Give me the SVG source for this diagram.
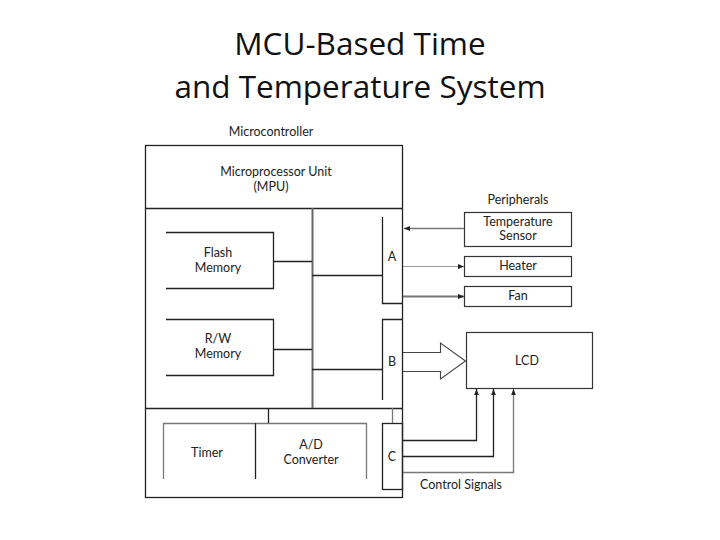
<svg xmlns="http://www.w3.org/2000/svg" width="720" height="540" viewBox="0 0 720 540">
<defs>
<style>
.t{font-family:Lato,"Open Sans",sans-serif;font-size:12.5px;fill:#222;text-anchor:middle}
.title{font-family:"Open Sans","Noto Sans",sans-serif;font-size:31.5px;fill:#111;text-anchor:middle}
.k{stroke:#222;stroke-width:1.3;fill:none}
.g{stroke:#777;stroke-width:1.3;fill:none}
.box{fill:#fff;stroke:#333;stroke-width:1.2}
</style>
<marker id="ah" viewBox="0 0 10 10" refX="10" refY="5" markerWidth="6" markerHeight="6" orient="auto" markerUnits="userSpaceOnUse">
<path d="M0,1 L10,5 L0,9 Z" fill="#222"/>
</marker>
</defs>
<rect width="720" height="540" fill="#fff"/>
<g id="title">
<text class="title" x="360" y="55">MCU-Based Time</text>
<text class="title" x="360" y="98">and Temperature System</text>
</g>
<g id="microcontroller">
<text class="t" x="271" y="136">Microcontroller</text>
<rect x="145.5" y="145.5" width="257" height="352" class="k"/>
<line x1="145" y1="208.5" x2="403" y2="208.5" class="k"/>
<line x1="145" y1="408.5" x2="403" y2="408.5" class="k"/>
</g>
<g id="mpu">
<text class="t" x="276" y="176">Microprocessor Unit</text>
<text class="t" x="271" y="191">(MPU)</text>
</g>
<g id="flash">
<path d="M166,232.5 H273.5 V288.5 H166" class="k"/>
<text class="t" x="218" y="257">Flash</text>
<text class="t" x="218" y="272">Memory</text>
</g>
<g id="rw">
<path d="M166,319.5 H273.5 V375.5 H166" class="k"/>
<text class="t" x="218" y="343">R/W</text>
<text class="t" x="218" y="358">Memory</text>
</g>
<g id="portA">
<path d="M382.5,217 V303.5 H403" class="k"/>
<text class="t" x="392" y="261">A</text>
</g>
<g id="portB">
<path d="M403,319.5 H382.5 V400" class="k"/>
<text class="t" x="392" y="366">B</text>
</g>
<g id="timer">
<path d="M163.5,479 V423.5 H366.5 V479" class="g"/>
<line x1="255.5" y1="423" x2="255.5" y2="479" class="k"/>
<text class="t" x="207" y="457">Timer</text>
</g>
<g id="adc">
<text class="t" x="311" y="449">A/D</text>
<text class="t" x="311" y="464">Converter</text>
</g>
<g id="portC">
<rect x="382.5" y="423.5" width="20" height="66" class="k"/>
<text class="t" x="392" y="461">C</text>
</g>
<g id="peripherals">
<text class="t" x="518" y="204">Peripherals</text>
</g>
<g id="tempSensor">
<rect x="464.5" y="212.5" width="107" height="34" class="box"/>
<text class="t" x="518" y="226">Temperature</text>
<text class="t" x="518" y="240">Sensor</text>
</g>
<g id="heater">
<rect x="464.5" y="256.5" width="107" height="20" class="box"/>
<text class="t" x="518" y="270" fill="#555">Heater</text>
</g>
<g id="fan">
<rect x="464.5" y="286.5" width="107" height="20" class="box"/>
<text class="t" x="518" y="300">Fan</text>
</g>
<g id="lcd">
<rect x="466.5" y="332.5" width="126" height="56" class="box"/>
<text class="t" x="527" y="365">LCD</text>
</g>
<g id="connectors">
<line x1="312.5" y1="208" x2="312.5" y2="408" stroke="#666" stroke-width="2"/>
<line x1="273" y1="261.5" x2="312" y2="261.5" class="k"/>
<line x1="273" y1="349.5" x2="312" y2="349.5" class="k"/>
<line x1="312" y1="275.5" x2="382" y2="275.5" class="k"/>
<line x1="312" y1="369.5" x2="382" y2="369.5" class="k"/>
<line x1="268.5" y1="408" x2="268.5" y2="423" class="k"/>
<line x1="392.5" y1="408" x2="392.5" y2="423" class="g"/>
<line x1="464" y1="228.5" x2="404" y2="228.5" class="g" marker-end="url(#ah)"/>
<line x1="403" y1="266.5" x2="464" y2="266.5" stroke="#999" stroke-width="1" marker-end="url(#ah)"/>
<line x1="403" y1="296.5" x2="464" y2="296.5" stroke="#777" stroke-width="2" marker-end="url(#ah)"/>
<path d="M403,352.5 H440.5 V343 L465.5,361 L440.5,379 V371.5 H403" fill="none" stroke="#444" stroke-width="1.1"/>
<path d="M403,440.5 H476.5 V389" class="k" marker-end="url(#ah)"/>
<path d="M403,456.5 H493.5 V389" class="k" marker-end="url(#ah)"/>
<path d="M403,472.5 H513.5 V389" class="g" marker-end="url(#ah)"/>
<text class="t" x="461" y="489">Control Signals</text>
</g>
</svg>
